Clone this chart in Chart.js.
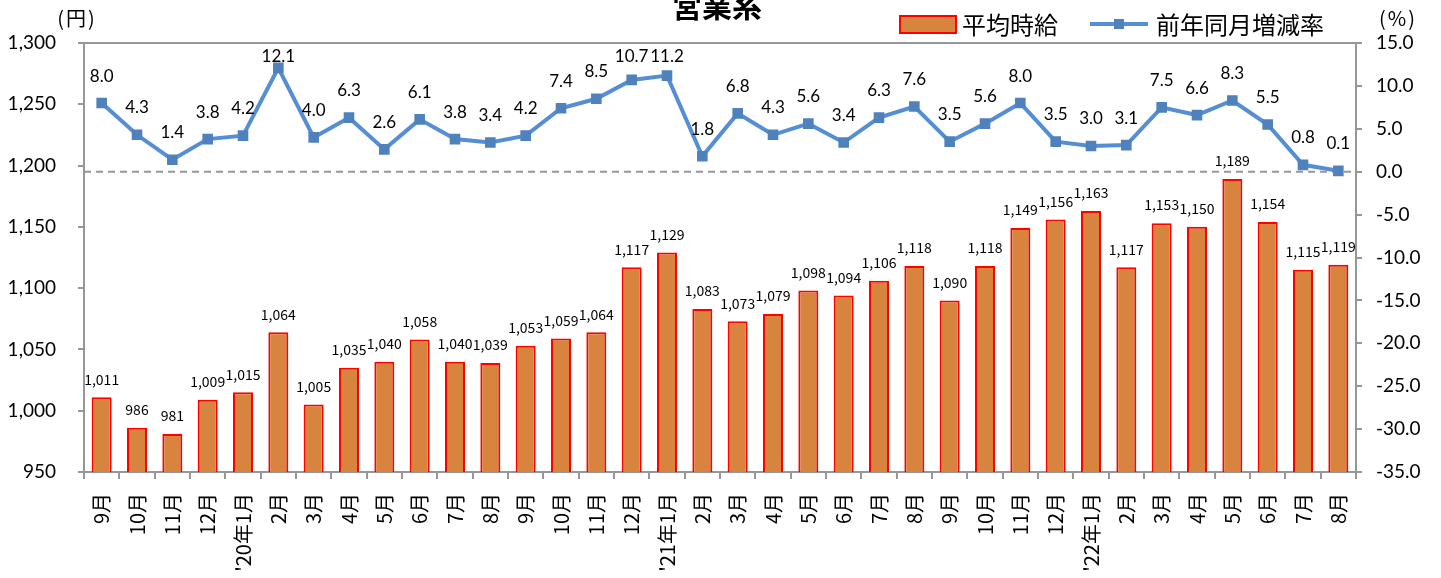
<!DOCTYPE html>
<html>
<head>
<meta charset="utf-8">
<script src="https://cdn.jsdelivr.net/npm/chart.js@4"></script>
<style>
  html, body { margin: 0; padding: 0; background: #fff; }
  #wrap { width: 1441px; height: 578px; }
</style>
</head>
<body>
<div id="wrap"><canvas id="myChart" width="1441" height="578"></canvas></div>
<script>
const months = ["9月", "10月", "11月", "12月", "'20年1月", "2月", "3月", "4月", "5月", "6月", "7月", "8月",
  "9月", "10月", "11月", "12月", "'21年1月", "2月", "3月", "4月", "5月", "6月", "7月", "8月",
  "9月", "10月", "11月", "12月", "'22年1月", "2月", "3月", "4月", "5月", "6月", "7月", "8月"];
const wage = [1011, 986, 981, 1009, 1015, 1064, 1005, 1035, 1040, 1058, 1040, 1039,
  1053, 1059, 1064, 1117, 1129, 1083, 1073, 1079, 1098, 1094, 1106, 1118,
  1090, 1118, 1149, 1156, 1163, 1117, 1153, 1150, 1189, 1154, 1115, 1119];
const yoy = [8.0, 4.3, 1.4, 3.8, 4.2, 12.1, 4.0, 6.3, 2.6, 6.1, 3.8, 3.4,
  4.2, 7.4, 8.5, 10.7, 11.2, 1.8, 6.8, 4.3, 5.6, 3.4, 6.3, 7.6,
  3.5, 5.6, 8.0, 3.5, 3.0, 3.1, 7.5, 6.6, 8.3, 5.5, 0.8, 0.1];
const leftTicks = { min: 950, max: 1300, step: 50 };
const rightTicks = { min: -35, max: 15, step: 5 };

const jp = '"Noto Sans CJK JP", sans-serif';
const num = 'Lato, "Noto Sans", sans-serif';
const axisGray = "#979797";
const barFill = "#D9843E";
const barLine = "#FF0000";
const lineBlue = "#558ED5";
const markBlue = "#4F81BD";

// title, units, legend, zero line, value labels
const extras = {
  id: "extras",
  beforeDatasetsDraw(chart) {
    const ctx = chart.ctx;
    const area = chart.chartArea;
    const y0 = chart.scales.y1.getPixelForValue(0);
    ctx.save();
    ctx.strokeStyle = axisGray;
    ctx.lineWidth = 2;
    ctx.setLineDash([7, 5]);
    ctx.beginPath();
    ctx.moveTo(area.left, y0);
    ctx.lineTo(area.right, y0);
    ctx.stroke();
    ctx.setLineDash([]);
    // top frame line
    ctx.beginPath();
    ctx.moveTo(area.left, area.top);
    ctx.lineTo(area.right + 6, area.top);
    ctx.stroke();
    ctx.restore();
  },
  afterDatasetsDraw(chart) {
    const ctx = chart.ctx;
    const area = chart.chartArea;
    ctx.save();
    ctx.fillStyle = "#000";
    ctx.textAlign = "center";
    ctx.textBaseline = "middle";

    const barMeta = chart.getDatasetMeta(1);
    ctx.font = '14px ' + jp;
    barMeta.data.forEach((el, i) => {
      ctx.fillText(wage[i].toLocaleString("en-US"), el.x, el.y - 18);
    });

    const lineMeta = chart.getDatasetMeta(0);
    ctx.font = '17px ' + num;
    lineMeta.data.forEach((el, i) => {
      let ty = el.y - 27;
      if (ty < area.top + 14) ty = area.top + 14;
      ctx.fillText(yoy[i].toFixed(1), el.x, ty);
    });

    // title
    ctx.font = 'bold 30px ' + jp;
    ctx.fillText("営業系", 717, 6);

    // units
    ctx.font = '20px ' + jp;
    ctx.letterSpacing = "2px";
    ctx.fillText("(円)", 77, 18);
    ctx.fillText("(%)", 1398, 18);
    ctx.letterSpacing = "0px";

    // legend
    ctx.fillStyle = barFill;
    ctx.fillRect(900, 16, 56, 17);
    ctx.strokeStyle = barLine;
    ctx.lineWidth = 2;
    ctx.strokeRect(900, 16, 56, 17);
    ctx.strokeStyle = lineBlue;
    ctx.lineWidth = 4;
    ctx.beginPath();
    ctx.moveTo(1090, 24);
    ctx.lineTo(1148, 24);
    ctx.stroke();
    ctx.fillStyle = markBlue;
    ctx.fillRect(1114, 19, 10, 10);
    ctx.fillStyle = "#000";
    ctx.textAlign = "left";
    ctx.font = '24px ' + jp;
    ctx.fillText("平均時給", 962, 25);
    ctx.fillText("前年同月増減率", 1156, 25);
    ctx.restore();
  }
};

const canvas = document.querySelector("#myChart");
const myChart = new Chart(canvas.getContext("2d"), {
  data: {
    labels: months,
    datasets: [
      {
        type: "line",
        label: "前年同月増減率",
        data: yoy,
        yAxisID: "y1",
        borderColor: lineBlue,
        borderWidth: 4,
        pointStyle: "rect",
        pointRadius: 7.5,
        pointBackgroundColor: markBlue,
        pointBorderColor: markBlue,
        pointBorderWidth: 0,
        tension: 0,
        order: 0,
      },
      {
        type: "bar",
        label: "平均時給",
        data: wage,
        yAxisID: "y",
        backgroundColor: barFill,
        borderColor: barLine,
        borderWidth: 2,
        barPercentage: 0.566,
        categoryPercentage: 1,
        order: 1,
      },
    ],
  },
  options: {
    responsive: false,
    animation: false,
    events: [],
    layout: { padding: { top: 43, left: 0, right: 0, bottom: 0 } },
    plugins: {
      legend: { display: false },
      title: { display: false },
      tooltip: { enabled: false },
    },
    scales: {
      x: {
        grid: { offset: true, drawOnChartArea: false, drawTicks: true, tickLength: 7, color: axisGray, lineWidth: 2 },
        border: { color: axisGray, width: 2 },
        ticks: {
          autoSkip: false,
          minRotation: 90,
          maxRotation: 90,
          padding: 14,
          color: "#000",
          font: { family: jp, size: 20 },
        },
        afterFit: (s) => { s.height = 106; },
      },
      y: {
        position: "left",
        min: leftTicks.min,
        max: leftTicks.max,
        grid: { drawOnChartArea: false, tickLength: 6, color: axisGray, lineWidth: 2 },
        border: { color: axisGray, width: 2 },
        ticks: {
          stepSize: leftTicks.step,
          padding: 22,
          color: "#000",
          font: { family: num, size: 19 },
          callback: (v) => v.toLocaleString("en-US"),
        },
        afterFit: (s) => { s.width = 84; },
      },
      y1: {
        position: "right",
        min: rightTicks.min,
        max: rightTicks.max,
        grid: { drawOnChartArea: false, tickLength: 6, color: axisGray, lineWidth: 2 },
        border: { color: axisGray, width: 2 },
        ticks: {
          stepSize: rightTicks.step,
          padding: 14,
          color: "#000",
          font: { family: num, size: 19 },
          callback: (v) => v.toFixed(1),
        },
        afterFit: (s) => { s.width = 85; },
      },
    },
  },
  plugins: [extras],
});
</script>
</body>
</html>
